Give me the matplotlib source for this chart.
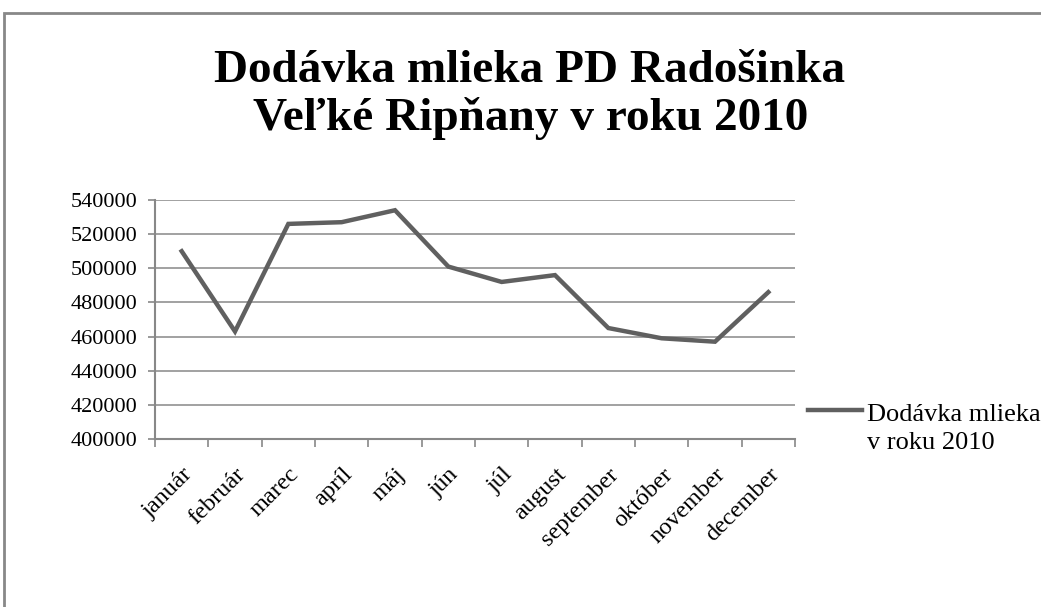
import matplotlib.pyplot as plt
import numpy as np
from matplotlib.patches import Rectangle
from matplotlib.legend_handler import HandlerLine2D

months = ["január", "február", "marec", "apríl", "máj", "jún", "júl",
          "august", "september", "október", "november", "december"]
milk = [510000, 463000, 526000, 527000, 534000, 501000, 492000,
        496000, 465000, 459000, 457000, 486000]
yticks = np.arange(400000, 540001, 20000)

series_label = "Dodávka mlieka\nv roku 2010"
title_1 = "Dodávka mlieka PD Radošinka"
title_2 = "Veľké Ripňany v roku 2010"

plt.rcParams['font.family'] = ['Liberation Serif', 'DejaVu Serif']

gray = "#888888"
line_gray = "#606060"

fig = plt.figure(figsize=(10.41, 6.07), dpi=100)
ax = fig.add_axes([155 / 1041, 1 - 439 / 607, 640 / 1041, 239 / 607])

x = np.arange(len(months))
ax.plot(x, milk, color=line_gray, lw=3.2, solid_joinstyle='miter', label=series_label)

ax.set_xlim(-0.5, len(months) - 0.5)
ax.set_ylim(yticks[0], yticks[-1])
ax.set_yticks(yticks)
ax.set_yticklabels([str(v) for v in yticks], fontsize=16)
ax.set_xticks(x)
ax.set_xticklabels(months, fontsize=17.5, rotation=45, ha='right', rotation_mode='anchor')
ax.set_xticks(np.arange(-0.5, len(months)), minor=True)
ax.tick_params(axis='x', which='major', length=0, pad=18)
ax.tick_params(axis='x', which='minor', length=6, width=1.2, color=gray)
ax.tick_params(axis='y', length=5, width=1.2, color=gray, pad=8)

ax.grid(axis='y', color=gray, lw=1.1)
ax.set_axisbelow(True)
for s in ['top', 'right']:
    ax.spines[s].set_visible(False)
for s in ['left', 'bottom']:
    ax.spines[s].set_color(gray)
    ax.spines[s].set_linewidth(1.5)


class TopHandler(HandlerLine2D):
    # keep the legend line on the first text row
    def create_artists(self, legend, orig_handle, xdescent, ydescent,
                       width, height, fontsize, trans):
        return super().create_artists(legend, orig_handle, xdescent, ydescent - 26,
                                      width, height, fontsize, trans)


leg = fig.legend(loc='center left', bbox_to_anchor=(808 / 1041, 1 - 429 / 607),
                 frameon=False, fontsize=19, handlelength=2.05, handletextpad=0.2,
                 borderpad=0, borderaxespad=0,
                 handler_map={plt.Line2D: TopHandler()})
for t in leg.get_texts():
    t.set_linespacing(1.35)

fig.text(530 / 1041, 1 - 82 / 607, title_1, ha='center', va='baseline',
         fontsize=34, fontweight='bold')
fig.text(531 / 1041, 1 - 130 / 607, title_2, ha='center', va='baseline',
         fontsize=34, fontweight='bold')

fig.add_artist(Rectangle((4 / 1041, -0.5), 2, 0.5 + 1 - 13 / 607, transform=fig.transFigure,
                         fill=False, edgecolor=gray, lw=2))

fig.savefig("out.png", dpi=100)
